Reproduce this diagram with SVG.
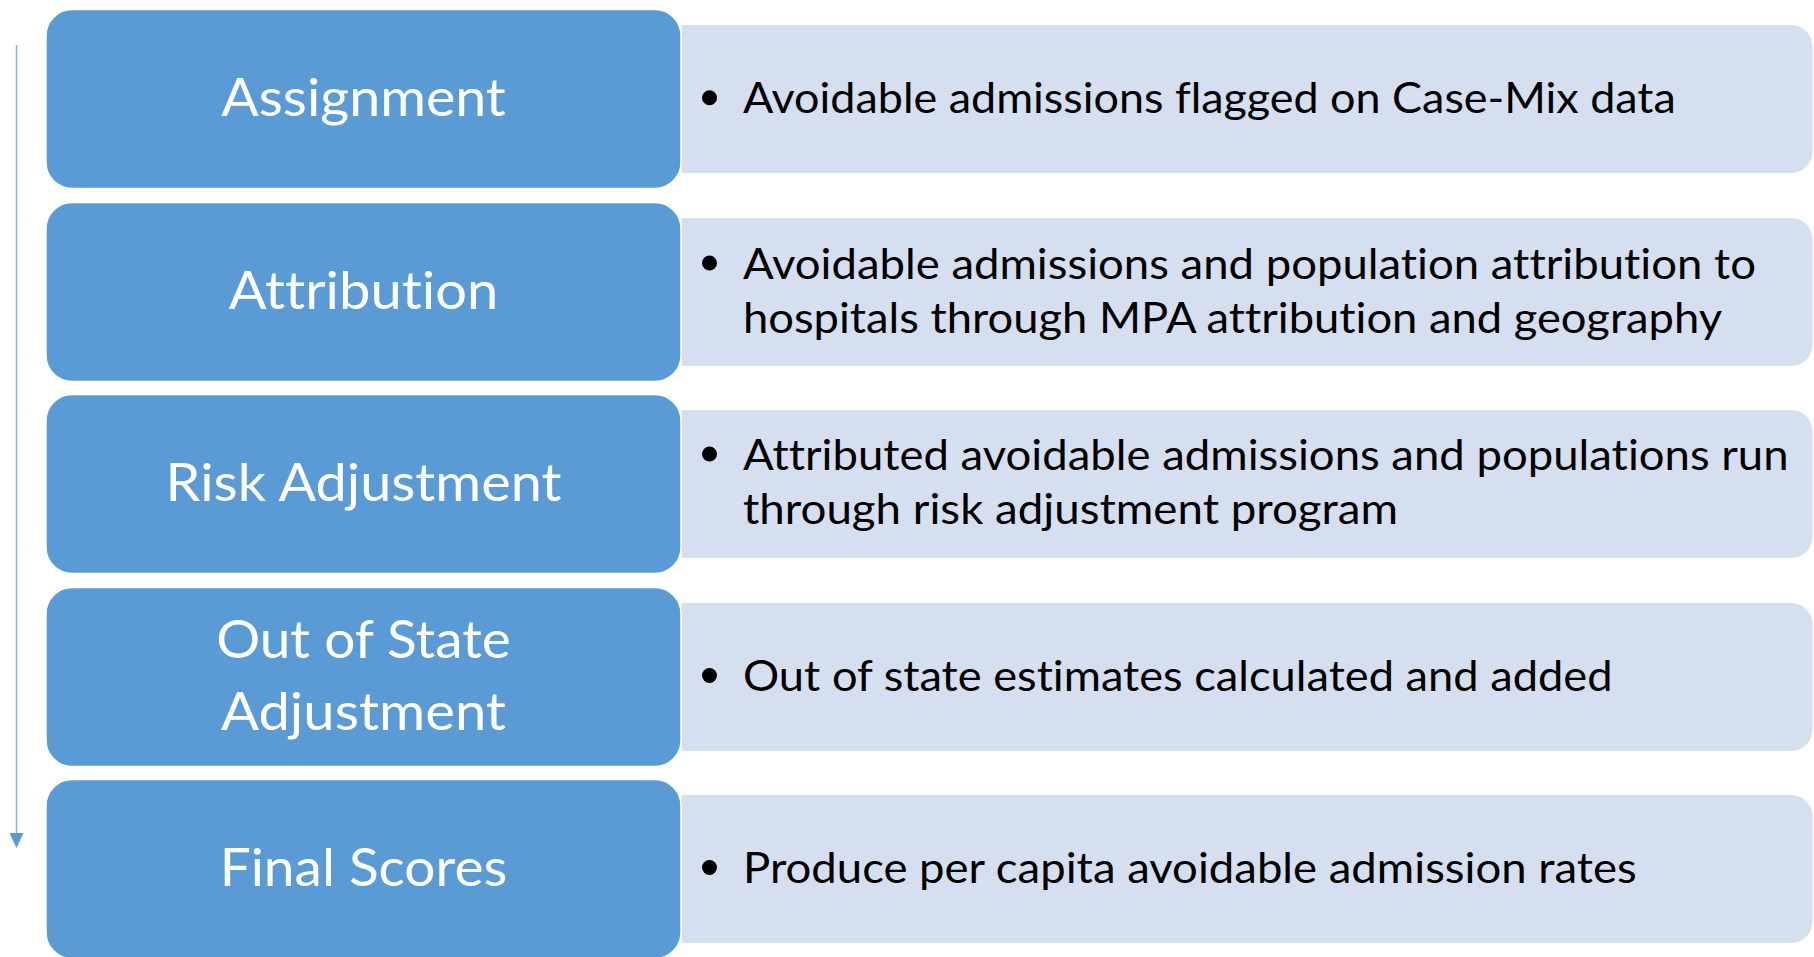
<svg xmlns="http://www.w3.org/2000/svg" width="1814" height="957" viewBox="0 0 1814 957">
  <style>
    .step { fill: #5b9bd5; stroke: #ffffff; stroke-width: 1.5; }
    .detail { fill: #d5dfef; stroke: #ffffff; stroke-width: 1; }
    .title { font-family: Lato, "Open Sans", "Liberation Sans", sans-serif; font-size: 53px; fill: #ffffff; text-anchor: middle; font-variant-ligatures: none; }
    .desc { font-family: Lato, "Open Sans", "Liberation Sans", sans-serif; font-size: 43px; fill: #000000; font-variant-ligatures: none; }
    .bullet { fill: #000000; }
    .flow { stroke: #86b4e2; stroke-width: 1.5; fill: none; }
  </style>
  <defs>
    <marker id="arrowhead" markerUnits="userSpaceOnUse" viewBox="0 0 15 14" refX="0" refY="7" markerWidth="15" markerHeight="14" orient="auto">
      <path d="M0,0 L15,7 L0,14 z" fill="#5b9bd5"/>
    </marker>
  </defs>

  <g id="connectors">
    <path class="flow" d="M16.5,45 L16.5,833" marker-end="url(#arrowhead)"/>
  </g>

  <g id="node-assignment">
    <path class="detail" d="M681,24.5 H1791 A22,22 0 0 1 1813,46.5 V151.5 A22,22 0 0 1 1791,173.5 H681 Z"/>
    <rect class="step" x="46" y="9.5" width="635" height="179" rx="26" ry="26"/>
    <text class="title" x="363.5" y="116" textLength="284.6" lengthAdjust="spacingAndGlyphs">Assignment</text>
    <circle class="bullet" cx="709.5" cy="97.7" r="7.5"/>
    <text class="desc" x="743" y="113" textLength="932.7" lengthAdjust="spacingAndGlyphs">Avoidable admissions flagged on Case-Mix data</text>
  </g>

  <g id="node-attribution">
    <path class="detail" d="M681,217.5 H1791 A22,22 0 0 1 1813,239.5 V344.5 A22,22 0 0 1 1791,366.5 H681 Z"/>
    <rect class="step" x="46" y="202.5" width="635" height="179" rx="26" ry="26"/>
    <text class="title" x="363.5" y="309" textLength="269.6" lengthAdjust="spacingAndGlyphs">Attribution</text>
    <circle class="bullet" cx="709.5" cy="263" r="7.5"/>
    <text class="desc" x="743" y="278.5" textLength="1013" lengthAdjust="spacingAndGlyphs">Avoidable admissions and population attribution to</text>
    <text class="desc" x="743" y="332.5" textLength="979" lengthAdjust="spacingAndGlyphs">hospitals through MPA attribution and geography</text>
  </g>

  <g id="node-risk-adjustment">
    <path class="detail" d="M681,409.5 H1791 A22,22 0 0 1 1813,431.5 V536.5 A22,22 0 0 1 1791,558.5 H681 Z"/>
    <rect class="step" x="46" y="394.5" width="635" height="179" rx="26" ry="26"/>
    <text class="title" x="363.5" y="501" textLength="395.8" lengthAdjust="spacingAndGlyphs">Risk Adjustment</text>
    <circle class="bullet" cx="709.5" cy="454" r="7.5"/>
    <text class="desc" x="743" y="469.5" textLength="1045.6" lengthAdjust="spacingAndGlyphs">Attributed avoidable admissions and populations run</text>
    <text class="desc" x="743" y="523.5" textLength="655" lengthAdjust="spacingAndGlyphs">through risk adjustment program</text>
  </g>

  <g id="node-out-of-state">
    <path class="detail" d="M681,602.5 H1791 A22,22 0 0 1 1813,624.5 V729.5 A22,22 0 0 1 1791,751.5 H681 Z"/>
    <rect class="step" x="46" y="587.5" width="635" height="179" rx="26" ry="26"/>
    <text class="title" x="363.5" y="658" textLength="294.7" lengthAdjust="spacingAndGlyphs">Out of State</text>
    <text class="title" x="363.5" y="730" textLength="285" lengthAdjust="spacingAndGlyphs">Adjustment</text>
    <circle class="bullet" cx="709.5" cy="675.5" r="7.5"/>
    <text class="desc" x="743" y="691" textLength="869.6" lengthAdjust="spacingAndGlyphs">Out of state estimates calculated and added</text>
  </g>

  <g id="node-final-scores">
    <path class="detail" d="M681,794.5 H1791 A22,22 0 0 1 1813,816.5 V921.5 A22,22 0 0 1 1791,943.5 H681 Z"/>
    <rect class="step" x="46" y="779.5" width="635" height="179" rx="26" ry="26"/>
    <text class="title" x="363.5" y="886" textLength="287.6" lengthAdjust="spacingAndGlyphs">Final Scores</text>
    <circle class="bullet" cx="709.5" cy="867.5" r="7.5"/>
    <text class="desc" x="743" y="883" textLength="893.7" lengthAdjust="spacingAndGlyphs">Produce per capita avoidable admission rates</text>
  </g>
</svg>
